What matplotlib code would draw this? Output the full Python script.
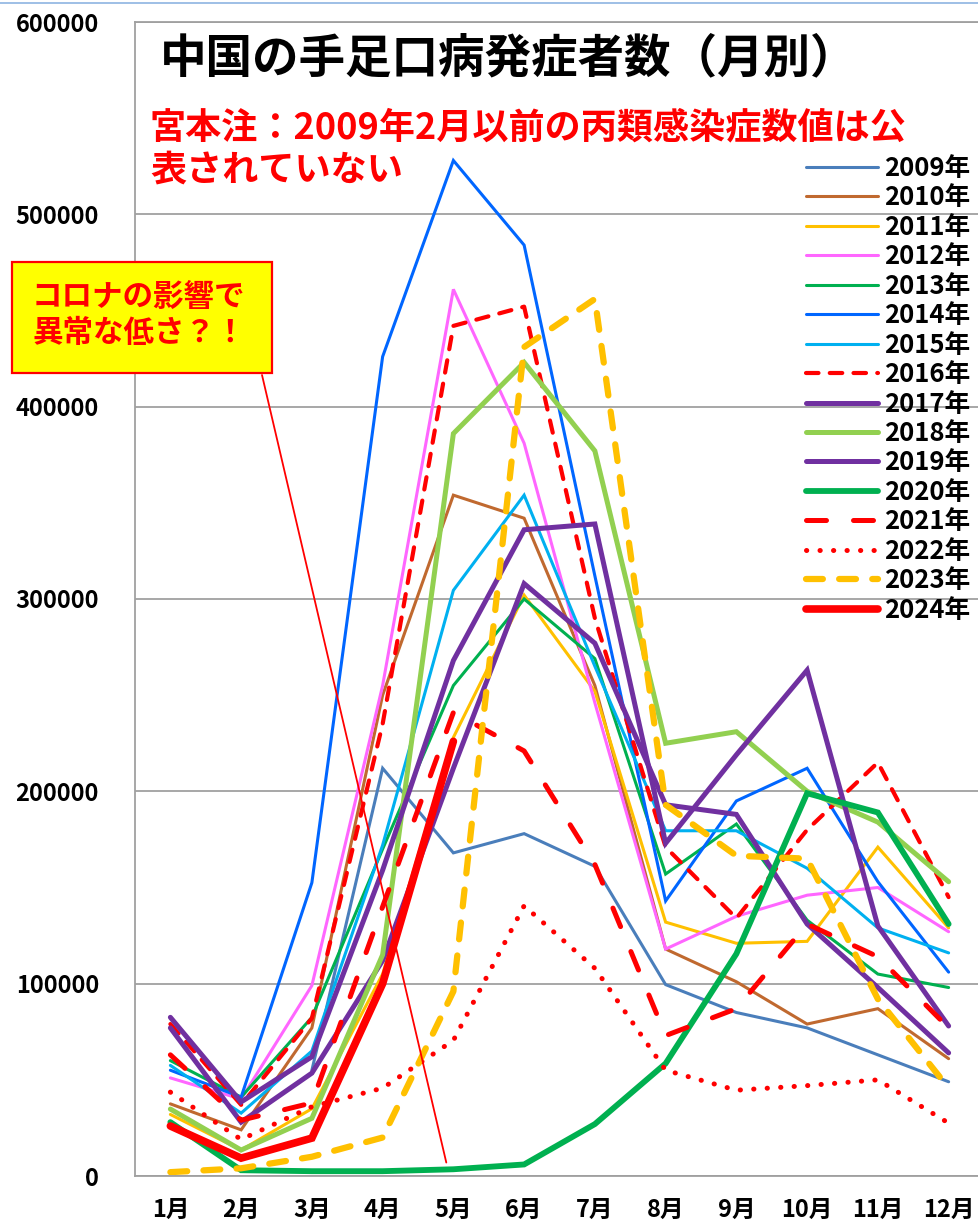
import numpy as np
import matplotlib
matplotlib.use('Agg')
import matplotlib.pyplot as plt
from matplotlib.font_manager import FontProperties
from matplotlib.lines import Line2D
from matplotlib.patches import Rectangle

nan = np.nan
months = ['1月', '2月', '3月', '4月', '5月', '6月', '7月', '8月', '9月', '10月', '11月', '12月']
y_ticks = [0, 100000, 200000, 300000, 400000, 500000, 600000]
years = ['2009年', '2010年', '2011年', '2012年', '2013年', '2014年', '2015年', '2016年',
         '2017年', '2018年', '2019年', '2020年', '2021年', '2022年', '2023年', '2024年']

y2009 = [nan, nan, 55000, 212000, 168000, 178000, 161000, 99500, 85000, 77000, 63000, 49000]
y2010 = [37500, 24000, 77000, 250000, 354000, 342000, 255000, 118000, 101000, 79000, 87000, 61000]
y2011 = [32000, 13500, 35000, 105000, 228000, 302000, 252000, 132000, 121000, 122000, 171000, 129000]
y2012 = [51000, 40000, 99000, 255000, 461000, 381000, 246000, 118000, 135000, 146000, 150000, 127000]
y2013 = [60000, 41000, 82500, 170000, 255000, 300000, 269000, 157000, 183000, 133000, 105000, 98000]
y2014 = [55000, 41000, 152500, 426000, 528000, 484000, 312000, 143000, 195000, 212000, 153000, 106000]
y2015 = [57500, 32700, 65000, 172000, 304500, 354000, 265000, 179500, 179500, 160000, 129000, 116000]
y2016 = [79000, 37000, 82000, 235000, 442000, 452000, 290000, 171000, 134000, 180000, 215000, 145000]
y2017 = [77000, 28000, 53500, 112000, 212000, 308000, 277000, 193000, 188000, 131000, 98000, 64000]
y2018 = [34800, 13500, 30000, 115000, 386000, 423000, 377000, 225000, 231000, 200000, 184000, 153000]
y2019 = [82500, 38500, 62000, 159000, 268000, 336000, 339000, 173000, 219000, 263000, 130000, 78000]
y2020 = [28000, 3000, 2500, 2500, 3500, 6000, 27000, 58500, 115500, 199000, 189000, 131000]
y2021 = [63000, 29000, 38000, 140000, 241000, 221000, 162000, 73000, 87000, 131000, 114000, 77000]
y2022 = [43600, 19000, 36000, 45700, 70500, 140500, 108000, 55000, 44600, 47000, 50000, 27500]
y2023 = [2000, 4000, 10000, 20000, 96000, 431000, 456000, 193000, 166500, 165000, 92000, 45700]
y2024 = [26000, 9300, 19700, 100000, 226000, nan, nan, nan, nan, nan, nan, nan]

series = [y2009, y2010, y2011, y2012, y2013, y2014, y2015, y2016,
          y2017, y2018, y2019, y2020, y2021, y2022, y2023, y2024]

# styles: (color, linewidth, linestyle)
styles = [
    ('#4A7EBB', 2.2, '-'),
    ('#C0692F', 2.2, '-'),
    ('#FFC000', 2.2, '-'),
    ('#FF66FF', 2.2, '-'),
    ('#00B050', 2.2, '-'),
    ('#0066FF', 2.2, '-'),
    ('#00B0F0', 2.2, '-'),
    ('#FF0000', 3.0, (0, (3.0, 2.7))),
    ('#7030A0', 3.6, '-'),
    ('#92D050', 3.6, '-'),
    ('#7030A0', 3.6, '-'),
    ('#00B050', 4.2, '-'),
    ('#FF0000', 3.6, (0, (4.0, 5.4))),
    ('#FF0000', 3.6, (0, (0.05, 2.65))),
    ('#FFC000', 4.5, (0, (2.7, 2.6))),
    ('#FF0000', 5.5, '-'),
]

W, H = 979, 1229
fig = plt.figure(figsize=(W / 100, H / 100), dpi=100)
ax = fig.add_axes([135 / W, 1 - 1176 / H, (984 - 135) / W, (1176 - 22) / H])

x = np.arange(len(months))
for yr, ys, (c, lw, ls) in zip(years, series, styles):
    ax.plot(x, ys, color=c, lw=lw, linestyle=ls, label=yr,
            solid_capstyle='round', dash_capstyle='round', solid_joinstyle='miter')

ax.set_xlim(-0.5, 11.5)
ax.set_ylim(0, 600000)
ax.set_yticks(y_ticks)
ax.yaxis.grid(True, color='#A0A0A0', lw=1.3)
ax.set_axisbelow(True)
for s in ['left', 'top', 'bottom', 'right']:
    ax.spines[s].set_color('#A0A0A0')
    ax.spines[s].set_linewidth(1.3)
ax.spines['right'].set_visible(False)

cjk = ['Noto Sans CJK JP', 'DejaVu Sans']
ax.set_xticks(x)
ax.set_xticklabels(months, fontfamily=cjk, fontweight='bold', fontsize=17)
ax.set_yticklabels([str(v) for v in y_ticks], fontfamily=cjk, fontweight='bold', fontsize=17)
ax.tick_params(axis='both', length=0)
ax.tick_params(axis='x', pad=16)
ax.tick_params(axis='y', pad=26)

leg = ax.legend(loc='upper left', bbox_to_anchor=(806 / W, 1 - 155 / H),
                bbox_transform=fig.transFigure, frameon=False,
                prop=FontProperties(family=cjk, weight='bold', size=18.5),
                handlelength=2.8, handletextpad=0.25, labelspacing=0.095,
                borderpad=0, borderaxespad=0)

fig.text(160 / W, 1 - 58 / H, '中国の手足口病発症者数（月別）', fontfamily=cjk,
         fontweight='bold', fontsize=33.5, va='center', ha='left', color='black')
fig.text(150 / W, 1 - 128 / H, '宮本注：2009年2月以前の丙類感染症数値は公', fontfamily=cjk,
         fontweight='bold', fontsize=26, va='center', ha='left', color='#FF0000')
fig.text(150 / W, 1 - 170 / H, '表されていない', fontfamily=cjk,
         fontweight='bold', fontsize=26, va='center', ha='left', color='#FF0000')

# annotation box
fig.patches.append(Rectangle((12 / W, 1 - 373 / H), 260 / W, 111 / H,
                             transform=fig.transFigure, facecolor='#FFFF00',
                             edgecolor='#FF0000', lw=1.6, zorder=5))
fig.text(32 / W, 1 - 297 / H, 'コロナの影響で', fontfamily=cjk, fontweight='bold',
         fontsize=22, va='center', ha='left', color='#FF0000', zorder=6)
fig.text(32 / W, 1 - 333 / H, '異常な低さ？！', fontfamily=cjk, fontweight='bold',
         fontsize=22, va='center', ha='left', color='#FF0000', zorder=6)
ax.annotate('', xy=(4 - 0.1, 7000), xycoords='data',
            xytext=(262 / W, 1 - 375 / H), textcoords='figure fraction',
            arrowprops=dict(arrowstyle='-', color='#FF0000', lw=1.3, shrinkA=0, shrinkB=0))

# thin light-blue line at very top (screenshot border)
fig.add_artist(Line2D([0, 1], [1 - 3 / H, 1 - 3 / H], transform=fig.transFigure,
                      color='#8DB4E2', lw=1.2))

fig.savefig('out.png', dpi=100)
